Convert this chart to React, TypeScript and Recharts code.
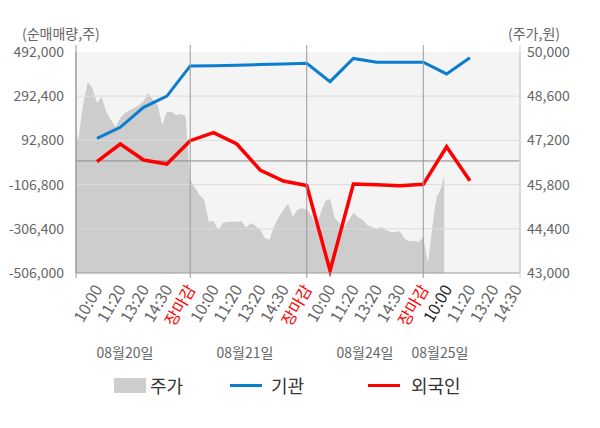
import { ComposedChart, Area, Line, XAxis, YAxis, CartesianGrid, ReferenceLine } from 'recharts';

// x-axis labels: 4 trading days, 5 slots each (last day cut at 14:30)
const TICK_LABELS = [
  '10:00', '11:20', '13:20', '14:30', '장마감',
  '10:00', '11:20', '13:20', '14:30', '장마감',
  '10:00', '11:20', '13:20', '14:30', '장마감',
  '10:00', '11:20', '13:20', '14:30',
];
const DATE_LABELS = ['08월20일', '08월21일', '08월24일', '08월25일'];

const LEFT_TICKS = [492000, 292400, 92800, -106800, -306400, -506000];
const RIGHT_TICKS = [50000, 48600, 47200, 45800, 44400, 43000];

// net buying (shares), one value per tick slot
const INSTITUTION = [
  102000, 152000, 242000, 293000, 429000,
  430000, 432000, 435000, 438000, 441000,
  358000, 463000, 446000, 446000, 446000,
  393000, 466000,
];
const FOREIGNER = [
  -3400, 76500, 4300, -13800, 91400,
  127600, 76500, -40900, -90600, -110900,
  -495600, -104100, -107300, -111800, -105500,
  64300, -89200,
];

// intraday price (won)
const PRICE_DAY1 = [
  47690, 47210, 48320, 49050, 48860, 48385, 48575, 48100, 47850, 47625,
  47910, 48070, 48160, 48230, 48320, 48450, 48700, 48480, 48320, 47690,
  48100, 48100, 48000, 48040, 47970,
];
const PRICE_DAY2 = [
  45950, 45720, 45470, 45310, 44620, 44650, 44360, 44580, 44620, 44620,
  44620, 44650, 44430, 44580, 44490, 44360, 44110, 44050, 44490, 44770,
  45000, 45190, 44770, 45000, 45060,
];
const PRICE_DAY3 = [
  45000, 44810, 44490, 44900, 45280, 45340, 44740, 44580, 44430, 44680,
  44900, 44770, 44680, 44520, 44460, 44390, 44460, 44360, 44300, 44300,
  44330, 44080, 44010, 44010, 43980,
];
const PRICE_DAY4 = [44140, 43730, 43320, 43890, 44520, 45090, 45470, 45570, 45790, 46100];

const PRICE_DAYS = [PRICE_DAY1, PRICE_DAY2, PRICE_DAY3, PRICE_DAY4];
const SLOT_STEP = [0.2, 0.2, 0.2, 0.1];

const priceData = PRICE_DAYS.flatMap((arr, d) =>
  arr.map((price, i) => ({ x: d * 5 + i * SLOT_STEP[d], price }))
);
const flowData = INSTITUTION.map((inst, i) => ({ x: i + 1, inst, foreign: FOREIGNER[i] }));

const X_MIN = 0.1;
const X_MAX = 19.15;
const X_TICKS = [X_MIN, ...TICK_LABELS.map((_, i) => i + 1), X_MAX];
const DAY_MARKS = [X_MIN, 5, 10, 15, X_MAX];
const DATE_X = [125, 245, 365, 440];

const FONT = '"Noto Sans CJK KR", "Noto Sans", sans-serif';
const BLUE = '#0a7dcf';
const RED = '#ff0000';

const XTick = (props: any) => {
  const { x, y, payload } = props;
  const v = payload.value as number;
  const label = Number.isInteger(v) && v >= 1 ? TICK_LABELS[v - 1] : '';
  const color = label === '장마감' ? RED : v === 16 ? '#222' : '#666';
  const ax = x + 6;
  const ay = y + 16;
  return (
    <g>
      {DAY_MARKS.includes(v) && (
        <line x1={x} x2={x} y1={y - 228} y2={y + 5} stroke={v === X_MAX ? '#cfcfcf' : '#9a9a9a'} strokeWidth={1} />
      )}
      {label && (
        <text
          x={ax}
          y={ay}
          transform={`rotate(-60, ${ax}, ${ay})`}
          textAnchor="end"
          fill={color}
          fontSize={16}
          fontFamily={FONT}
        >
          {label}
        </text>
      )}
    </g>
  );
};

export default function App() {
  return (
    <div style={{ position: 'absolute', left: 0, top: 0, width: 600, height: 428, background: '#fff', fontFamily: FONT }}>
      <ComposedChart width={600} height={428} margin={{ top: 52, right: 0, left: 0, bottom: 0 }}>
        <CartesianGrid yAxisId="left" fill="#f4f4f4" horizontal={false} vertical={false} />
        <XAxis
          type="number"
          dataKey="x"
          domain={[X_MIN, X_MAX]}
          ticks={X_TICKS}
          interval={0}
          allowDataOverflow
          height={155}
          tickSize={0}
          tickMargin={0}
          tickLine={false}
          axisLine={{ stroke: '#9a9a9a' }}
          tick={<XTick />}
        />
        <YAxis
          yAxisId="left"
          domain={[-506000, 492000]}
          ticks={LEFT_TICKS}
          interval={0}
          width={76}
          tickSize={0}
          tickMargin={12}
          tickLine={false}
          axisLine={{ stroke: '#9a9a9a' }}
          tickFormatter={(v: number) => v.toLocaleString('en-US')}
          tick={{ fill: '#666', fontSize: 14, fontFamily: FONT }}
        />
        <YAxis
          yAxisId="right"
          orientation="right"
          domain={[43000, 50000]}
          ticks={RIGHT_TICKS}
          interval={0}
          width={80}
          tickSize={0}
          tickMargin={7}
          tickLine={false}
          axisLine={{ stroke: '#cfcfcf' }}
          tickFormatter={(v: number) => v.toLocaleString('en-US')}
          tick={{ fill: '#666', fontSize: 14, fontFamily: FONT, textAnchor: 'start' }}
        />
        <Area
          yAxisId="right"
          data={priceData}
          dataKey="price"
          type="linear"
          stroke="none"
          fill="#cdcdcd"
          fillOpacity={1}
          isAnimationActive={false}
        />
        {LEFT_TICKS.slice(1, -1).map((t) => (
          <ReferenceLine key={t} yAxisId="left" y={t} stroke="#dcdcdc" strokeWidth={1} />
        ))}
        <ReferenceLine yAxisId="left" y={0} stroke="#8a8a8a" strokeWidth={1} />
        <Line
          yAxisId="left"
          data={flowData}
          dataKey="inst"
          stroke={BLUE}
          strokeWidth={3}
          dot={false}
          isAnimationActive={false}
        />
        <Line
          yAxisId="left"
          data={flowData}
          dataKey="foreign"
          stroke={RED}
          strokeWidth={3.5}
          dot={false}
          isAnimationActive={false}
        />
      </ComposedChart>

      <div style={{ position: 'absolute', left: 22, top: 23, fontSize: 14, color: '#666' }}>(순매매량,주)</div>
      <div style={{ position: 'absolute', left: 508, top: 23, fontSize: 14, color: '#666' }}>(주가,원)</div>

      {DATE_LABELS.map((d, i) => (
        <div
          key={d}
          style={{ position: 'absolute', left: DATE_X[i] - 40, width: 80, top: 342, textAlign: 'center', fontSize: 14, color: '#666' }}
        >
          {d}
        </div>
      ))}

      <div style={{ position: 'absolute', left: 0, top: 372, width: 600, height: 28, fontSize: 18, color: '#333' }}>
        <div style={{ position: 'absolute', left: 114, top: 6, width: 32, height: 15, background: '#cdcdcd' }} />
        <div style={{ position: 'absolute', left: 150, top: 0 }}>주가</div>
        <div style={{ position: 'absolute', left: 230, top: 12, width: 32, height: 3, background: BLUE }} />
        <div style={{ position: 'absolute', left: 271, top: 0 }}>기관</div>
        <div style={{ position: 'absolute', left: 368, top: 12, width: 32, height: 3, background: RED }} />
        <div style={{ position: 'absolute', left: 411, top: 0 }}>외국인</div>
      </div>
    </div>
  );
}
